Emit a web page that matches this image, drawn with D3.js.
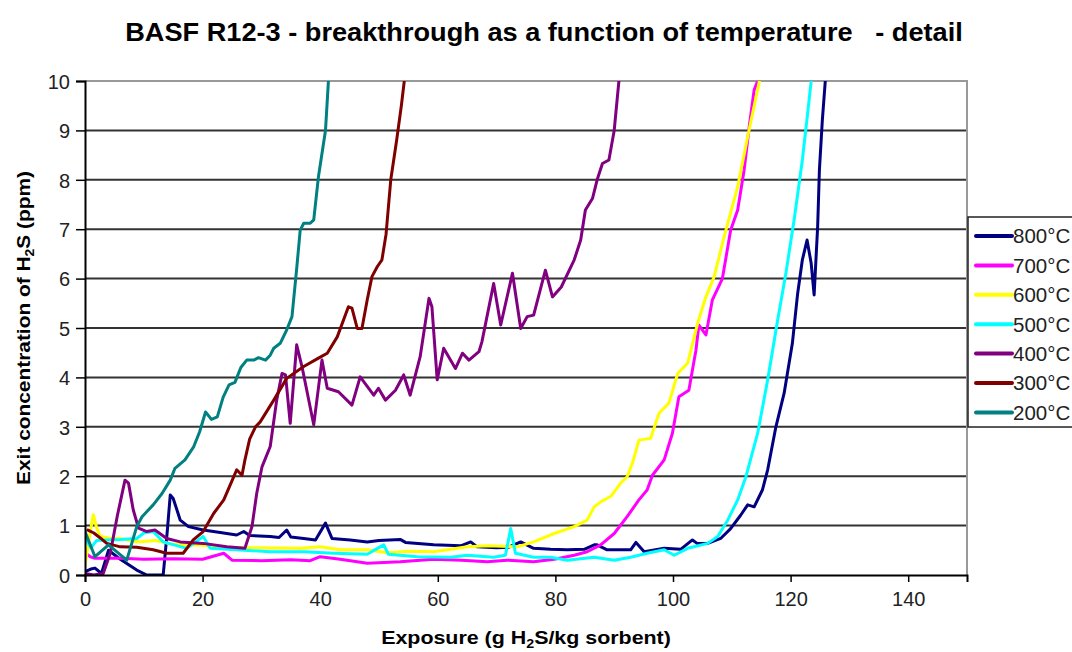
<!DOCTYPE html>
<html>
<head>
<meta charset="utf-8">
<script src="https://cdn.jsdelivr.net/npm/d3@7/dist/d3.min.js"></script>
<style>
  html, body { margin: 0; padding: 0; background: #fff; }
  svg { display: block; font-family: "Liberation Sans", Arial, sans-serif; }
</style>
</head>
<body>
<svg id="chart" width="1072" height="652"></svg>
<script>
// Breakthrough curves: exposure (g H2S/kg sorbent) vs exit H2S concentration (ppm)
const seriesNames = ["800°C", "700°C", "600°C", "500°C", "400°C", "300°C", "200°C"];

const xTicks = [0, 20, 40, 60, 80, 100, 120, 140];
const yTicks = [0, 1, 2, 3, 4, 5, 6, 7, 8, 9, 10];

const s800 = [[0,0.07],[1.0,0.12],[1.7,0.14],[2.8,0.03],[4.0,0.5],[6.0,0.32],[8.8,0.1],[10.5,0.0],[13.3,0.0],[14.0,0.9],[14.5,1.62],[15.0,1.55],[16.2,1.11],[17.6,0.98],[20.1,0.91],[23.0,0.86],[25.8,0.81],[27.0,0.88],[28.0,0.8],[31.5,0.78],[33.0,0.76],[34.3,0.91],[35.0,0.77],[37.2,0.74],[39.2,0.71],[40.9,1.05],[42.0,0.74],[45.1,0.71],[48.0,0.67],[50.0,0.7],[53.6,0.72],[54.5,0.66],[59.3,0.61],[63.9,0.59],[65.6,0.67],[66.7,0.57],[70.0,0.55],[72.0,0.56],[74.1,0.67],[76.3,0.54],[79.2,0.52],[82.0,0.51],[84.9,0.52],[86.6,0.61],[87.1,0.61],[88.8,0.51],[92.8,0.51],[93.7,0.66],[95.1,0.47],[98.5,0.54],[101.3,0.52],[103.3,0.71],[104.1,0.64],[105.9,0.64],[108.1,0.74],[109.8,0.94],[111.5,1.21],[112.7,1.42],[113.8,1.38],[115.2,1.72],[116.1,2.13],[117.5,3.0],[118.9,3.68],[120.3,4.69],[121.2,5.70],[122.0,6.38],[122.8,6.78],[123.5,6.31],[124.0,5.67],[124.6,7.05],[124.9,8.2],[125.4,9.21],[125.9,10.0],[126.1,10.4]];

const s700 = [[0,0.45],[0.9,0.37],[1.7,0.34],[6.0,0.34],[10.0,0.32],[15.0,0.33],[20.0,0.32],[23.6,0.44],[25.0,0.3],[30.0,0.29],[35.0,0.31],[38.3,0.29],[40.0,0.37],[43.4,0.32],[48.0,0.24],[53.6,0.27],[59.3,0.32],[64.0,0.3],[68.4,0.27],[71.8,0.30],[76.3,0.27],[79.8,0.32],[83.2,0.40],[85.4,0.47],[87.7,0.61],[90.0,0.84],[92.2,1.18],[94.2,1.52],[95.6,1.72],[96.5,2.02],[98.5,2.33],[99.9,2.87],[101.0,3.61],[102.7,3.74],[103.9,4.55],[104.4,5.06],[105.6,4.86],[106.7,5.57],[108.4,6.0],[109.8,6.98],[111.0,7.39],[112.1,8.2],[113.0,9.11],[113.8,9.82],[114.4,10.0],[114.6,10.4]];

const s600 = [[0,0.2],[0.8,0.8],[1.4,1.22],[2.0,0.95],[2.6,0.78],[4.0,0.75],[6.0,0.74],[8.8,0.67],[12.0,0.7],[15.0,0.62],[20.0,0.6],[25.0,0.55],[30.0,0.55],[36.6,0.54],[40.0,0.57],[43.4,0.51],[48.0,0.51],[51.4,0.45],[55.0,0.48],[59.3,0.47],[65.0,0.57],[68.4,0.59],[73.5,0.57],[76.3,0.67],[79.8,0.84],[83.2,0.98],[85.4,1.11],[86.6,1.38],[87.7,1.48],[89.5,1.6],[91.1,1.86],[92.2,1.99],[93.2,2.3],[94.2,2.73],[96.2,2.77],[97.6,3.27],[99.3,3.48],[100.8,4.08],[102.5,4.29],[104.2,5.10],[105.5,5.6],[107.0,6.04],[108.7,6.85],[111.0,7.86],[112.7,8.87],[114.7,10.0],[114.9,10.4]];

const s500 = [[0,0.75],[1.0,0.55],[2.0,0.7],[3.7,0.71],[6.0,0.72],[8.8,0.74],[10.0,0.85],[11.6,0.88],[13.3,0.67],[17.3,0.54],[20.1,0.78],[21.3,0.54],[25.8,0.51],[31.5,0.47],[37.2,0.47],[42.3,0.44],[48.0,0.42],[50.8,0.61],[51.6,0.42],[56.5,0.37],[62.2,0.36],[65.0,0.40],[69.5,0.36],[71.5,0.4],[72.4,0.94],[73.2,0.44],[76.3,0.36],[79.2,0.36],[82.0,0.30],[86.6,0.36],[90.0,0.30],[92.8,0.36],[95.6,0.44],[98.5,0.51],[100.2,0.40],[102.5,0.54],[105.9,0.64],[107.6,0.78],[109.3,1.11],[111.0,1.52],[112.4,1.99],[114.4,2.87],[116.1,3.95],[117.8,5.16],[119.2,6.11],[120.6,7.19],[122.0,8.40],[122.9,9.35],[123.5,10.0],[123.7,10.4]];

const s400 = [[0,0.03],[1.5,0.0],[3.1,0.03],[4.3,0.44],[5.5,1.2],[6.8,1.92],[7.4,1.86],[8.2,1.32],[9.1,0.95],[10.5,0.88],[11.9,0.91],[13.9,0.74],[16.2,0.67],[20.1,0.64],[24.1,0.57],[27.2,0.54],[28.4,0.98],[29.2,1.65],[30.1,2.19],[31.5,2.6],[32.6,3.54],[33.5,4.08],[34.1,4.05],[34.9,3.07],[36.0,4.66],[36.9,4.22],[38.9,3.04],[40.3,4.35],[41.2,3.78],[43.1,3.71],[45.4,3.44],[46.8,4.01],[49.1,3.64],[49.9,3.78],[51.1,3.54],[52.8,3.74],[54.2,4.05],[55.3,3.64],[57.0,4.42],[58.5,5.60],[59.0,5.43],[59.9,3.95],[61.0,4.59],[63.0,4.18],[64.2,4.49],[65.3,4.35],[67.0,4.52],[67.5,4.72],[69.5,5.9],[70.7,5.06],[72.7,6.11],[74.1,4.99],[75.2,5.23],[76.3,5.26],[78.3,6.17],[79.5,5.63],[81.0,5.83],[83.2,6.38],[84.3,6.78],[85.1,7.39],[86.3,7.62],[87.1,8.0],[88.0,8.33],[89.1,8.40],[90.0,9.0],[90.8,10.0],[91.0,10.4]];

const s300 = [[0.5,0.91],[1.5,0.85],[2.6,0.75],[3.7,0.64],[6.0,0.57],[8.8,0.56],[11.6,0.51],[13.9,0.44],[16.7,0.44],[18.4,0.71],[20.1,0.88],[21.9,1.25],[23.6,1.52],[25.3,1.99],[25.8,2.13],[26.7,2.02],[27.2,2.33],[28.0,2.75],[29.0,3.0],[29.8,3.1],[32.1,3.54],[34.3,3.98],[37.2,4.22],[39.7,4.39],[41.2,4.49],[42.9,4.82],[44.8,5.43],[45.4,5.40],[46.3,4.99],[47.1,4.99],[48.0,5.57],[48.8,6.04],[49.7,6.24],[50.5,6.38],[51.2,6.9],[52.0,8.0],[53.0,8.8],[53.8,9.5],[54.5,10.2]];

const s200 = [[0,0.88],[1.7,0.37],[4.0,0.61],[7.1,0.30],[8.8,0.98],[9.7,1.18],[11.6,1.42],[13.1,1.65],[14.5,1.92],[15.3,2.16],[17.0,2.33],[18.5,2.6],[19.5,2.9],[20.5,3.3],[21.5,3.15],[22.5,3.2],[23.5,3.6],[24.5,3.85],[25.5,3.9],[26.5,4.2],[27.5,4.35],[28.7,4.35],[29.5,4.4],[30.7,4.35],[31.5,4.45],[32.1,4.59],[33.2,4.69],[34.3,4.96],[35.2,5.23],[36.0,6.2],[36.6,6.98],[37.2,7.12],[38.3,7.12],[38.9,7.19],[39.7,8.06],[40.9,9.0],[41.4,10.0],[41.6,10.4]];

const seriesData = [s800, s700, s600, s500, s400, s300, s200];
const seriesColors = ["#000080", "#ff00ff", "#ffff00", "#00ffff", "#800080", "#800000", "#008080"];

const svg = d3.select("#chart");
const margin = { left: 85, top: 81, right: 967, bottom: 575 };

const x = d3.scaleLinear().domain([0, 150]).range([margin.left, margin.right]);
const y = d3.scaleLinear().domain([0, 10]).range([margin.bottom, margin.top]);

// plot area
svg.append("rect")
  .attr("x", margin.left).attr("y", margin.top)
  .attr("width", margin.right - margin.left).attr("height", margin.bottom - margin.top)
  .attr("fill", "#fff");

// horizontal gridlines
svg.append("g")
  .selectAll("line")
  .data(yTicks.filter(d => d > 0 && d < 10))
  .join("line")
  .attr("x1", margin.left).attr("x2", margin.right)
  .attr("y1", d => y(d)).attr("y2", d => y(d))
  .attr("stroke", "#333").attr("stroke-width", 2);

// top and right frame
svg.append("path")
  .attr("d", `M${margin.left},${y(10)}H${margin.right}V${margin.bottom}`)
  .attr("fill", "none").attr("stroke", "#999").attr("stroke-width", 2);

// curves
svg.append("clipPath").attr("id", "plotclip")
  .append("rect")
  .attr("x", margin.left).attr("y", margin.top)
  .attr("width", margin.right - margin.left).attr("height", margin.bottom - margin.top);

const line = d3.line().x(d => x(d[0])).y(d => y(d[1]));

svg.append("g").attr("clip-path", "url(#plotclip)")
  .selectAll("path")
  .data(seriesData)
  .join("path")
  .attr("d", line)
  .attr("fill", "none")
  .attr("stroke", (d, i) => seriesColors[i])
  .attr("stroke-width", 3)
  .attr("stroke-linejoin", "round")
  .attr("stroke-linecap", "round");

// axes
const xAxis = svg.append("g")
  .attr("transform", `translate(0,${margin.bottom})`)
  .call(d3.axisBottom(x).tickValues(xTicks).tickSize(7).tickPadding(10));
const yAxis = svg.append("g")
  .attr("transform", `translate(${margin.left},0)`)
  .call(d3.axisLeft(y).tickValues(yTicks).tickSize(9).tickPadding(6));

[xAxis, yAxis].forEach(g => {
  g.select(".domain").attr("stroke", "#000").attr("stroke-width", 2);
  g.selectAll(".tick line").attr("stroke", "#000").attr("stroke-width", 1.5);
  g.selectAll(".tick text")
    .attr("font-family", "Liberation Sans, Arial, sans-serif")
    .attr("font-size", 20).attr("fill", "#222");
});
yAxis.selectAll(".tick text").attr("dy", "0.36em");

// horizontal scale factor that brings a text to a given width
function fitText(sel, width) {
  const w = sel.node().getBBox().width;
  return w > 0 ? width / w : 1;
}

// title
const title = svg.append("text")
  .attr("text-anchor", "middle")
  .attr("font-weight", "bold").attr("font-size", 26).attr("fill", "#000")
  .attr("xml:space", "preserve")
  .text("BASF R12-3 - breakthrough as a function of temperature   - detail");
title.attr("transform", `translate(544,41) scale(${fitText(title, 838)},1)`);

// x axis title
const xTitle = svg.append("text")
  .attr("text-anchor", "middle")
  .attr("font-weight", "bold").attr("font-size", 18).attr("fill", "#000");
xTitle.append("tspan").text("Exposure (g H");
xTitle.append("tspan").attr("font-size", 12).attr("dy", 4).text("2");
xTitle.append("tspan").attr("dy", -4).text("S/kg sorbent)");
xTitle.attr("transform", `translate(526,644) scale(${fitText(xTitle, 290)},1)`);

// y axis title
const yTitle = svg.append("text")
  .attr("text-anchor", "middle")
  .attr("font-weight", "bold").attr("font-size", 18).attr("fill", "#000");
yTitle.append("tspan").text("Exit concentration of H");
yTitle.append("tspan").attr("font-size", 12).attr("dy", 4).text("2");
yTitle.append("tspan").attr("dy", -4).text("S (ppm)");
yTitle.attr("transform", `translate(30,328) rotate(-90) scale(${fitText(yTitle, 314)},1)`);

// legend
const legend = svg.append("g");
legend.append("rect")
  .attr("x", 968).attr("y", 217).attr("width", 140).attr("height", 210)
  .attr("fill", "#fff").attr("stroke", "#222").attr("stroke-width", 1.5);

const legendItems = legend.selectAll("g.item")
  .data(seriesNames)
  .join("g").attr("class", "item")
  .attr("transform", (d, i) => `translate(0,${236 + i * 29.4})`);
legendItems.append("line")
  .attr("x1", 976).attr("x2", 1012).attr("y1", 0).attr("y2", 0)
  .attr("stroke", (d, i) => seriesColors[i])
  .attr("stroke-width", 4).attr("stroke-linecap", "round");
legendItems.append("text")
  .attr("x", 1013).attr("y", 0).attr("dy", "0.36em")
  .attr("font-size", 20.5).attr("fill", "#222")
  .text(d => d);
</script>
</body>
</html>
